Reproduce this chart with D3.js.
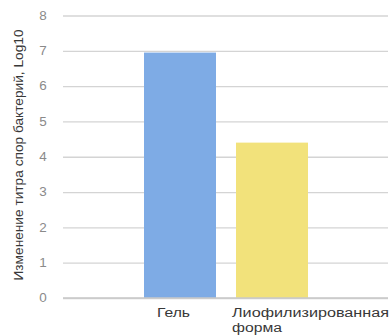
<!DOCTYPE html>
<html><head><meta charset="utf-8">
<script src="https://cdn.jsdelivr.net/npm/d3@7"></script>
<style>body{margin:0;background:#fff}svg{display:block}</style>
</head><body>
<script>
const categories = ["Гель", "Лиофилизированная форма"];
const values = [6.95, 4.4];
const colors = ["#7eabe5", "#f2e27b"];
const yTicks = [0,1,2,3,4,5,6,7,8];
const yTitle = "Изменение титра спор бактерий, Log10";

const W = 389, H = 335;
const svg = d3.select("body").append("svg").attr("width", W).attr("height", H);
const y = d3.scaleLinear().domain([0, 8]).range([298, 15.5]);
const x = d3.scaleBand().domain(categories).range([134, 318]).paddingInner(20/92).paddingOuter(10/92);
const gridX0 = 63, gridX1 = 388;

const font = "'Liberation Sans', Arial, Helvetica, sans-serif";

// gridlines + tick labels via axis
const yAxis = d3.axisLeft(y).tickValues(yTicks).tickSize(-(gridX1 - gridX0)).tickPadding(14).tickFormat(d3.format("d"));
const g = svg.append("g").attr("transform", `translate(${gridX0},0)`).call(yAxis);
g.select(".domain").remove();
g.selectAll(".tick line").attr("stroke", "#d4d4d4").attr("stroke-width", 1.3);
g.selectAll(".tick text").attr("fill", "#8a8a8a").attr("font-size", 12).attr("font-family", font)
  .attr("text-anchor", "middle").attr("x", -20).attr("textLength", 7.5).attr("lengthAdjust", "spacingAndGlyphs");

// bars
svg.selectAll("rect.bar").data(categories).join("rect").attr("class", "bar")
  .attr("x", d => x(d)).attr("width", x.bandwidth())
  .attr("y", (d, i) => y(values[i])).attr("height", (d, i) => y(0) - y(values[i]))
  .attr("fill", (d, i) => colors[i]);

// baseline
svg.append("line").attr("x1", gridX0).attr("x2", gridX1).attr("y1", y(0)).attr("y2", y(0)).attr("stroke", "#c8c8c8").attr("stroke-width", 1.3);

// category labels
const labelLens = [[33], [157, 50]];
const labels = svg.selectAll("text.cat").data(categories).join("text").attr("class", "cat")
  .attr("font-family", font).attr("font-size", 12).attr("fill", "#383838");
labels.each(function(d, i) {
  const t = d3.select(this);
  if (i === 0) {
    t.attr("x", x(d) + x.bandwidth() / 2 - 6.5).attr("y", 317).attr("text-anchor", "middle")
      .attr("textLength", labelLens[0][0]).attr("lengthAdjust", "spacingAndGlyphs").text(d);
  } else {
    d.split(" ").forEach((w, k) => {
      t.append("tspan").attr("x", x(d) - 4).attr("y", 317 + k * 15)
        .attr("textLength", labelLens[1][k]).attr("lengthAdjust", "spacingAndGlyphs").text(w);
    });
  }
});

// y title
svg.append("text").attr("transform", `translate(22.5,155) rotate(-90)`).attr("text-anchor", "middle")
  .attr("font-family", font).attr("font-size", 12).attr("fill", "#383838")
  .attr("textLength", 251).attr("lengthAdjust", "spacingAndGlyphs").text(yTitle);
</script>
</body></html>
